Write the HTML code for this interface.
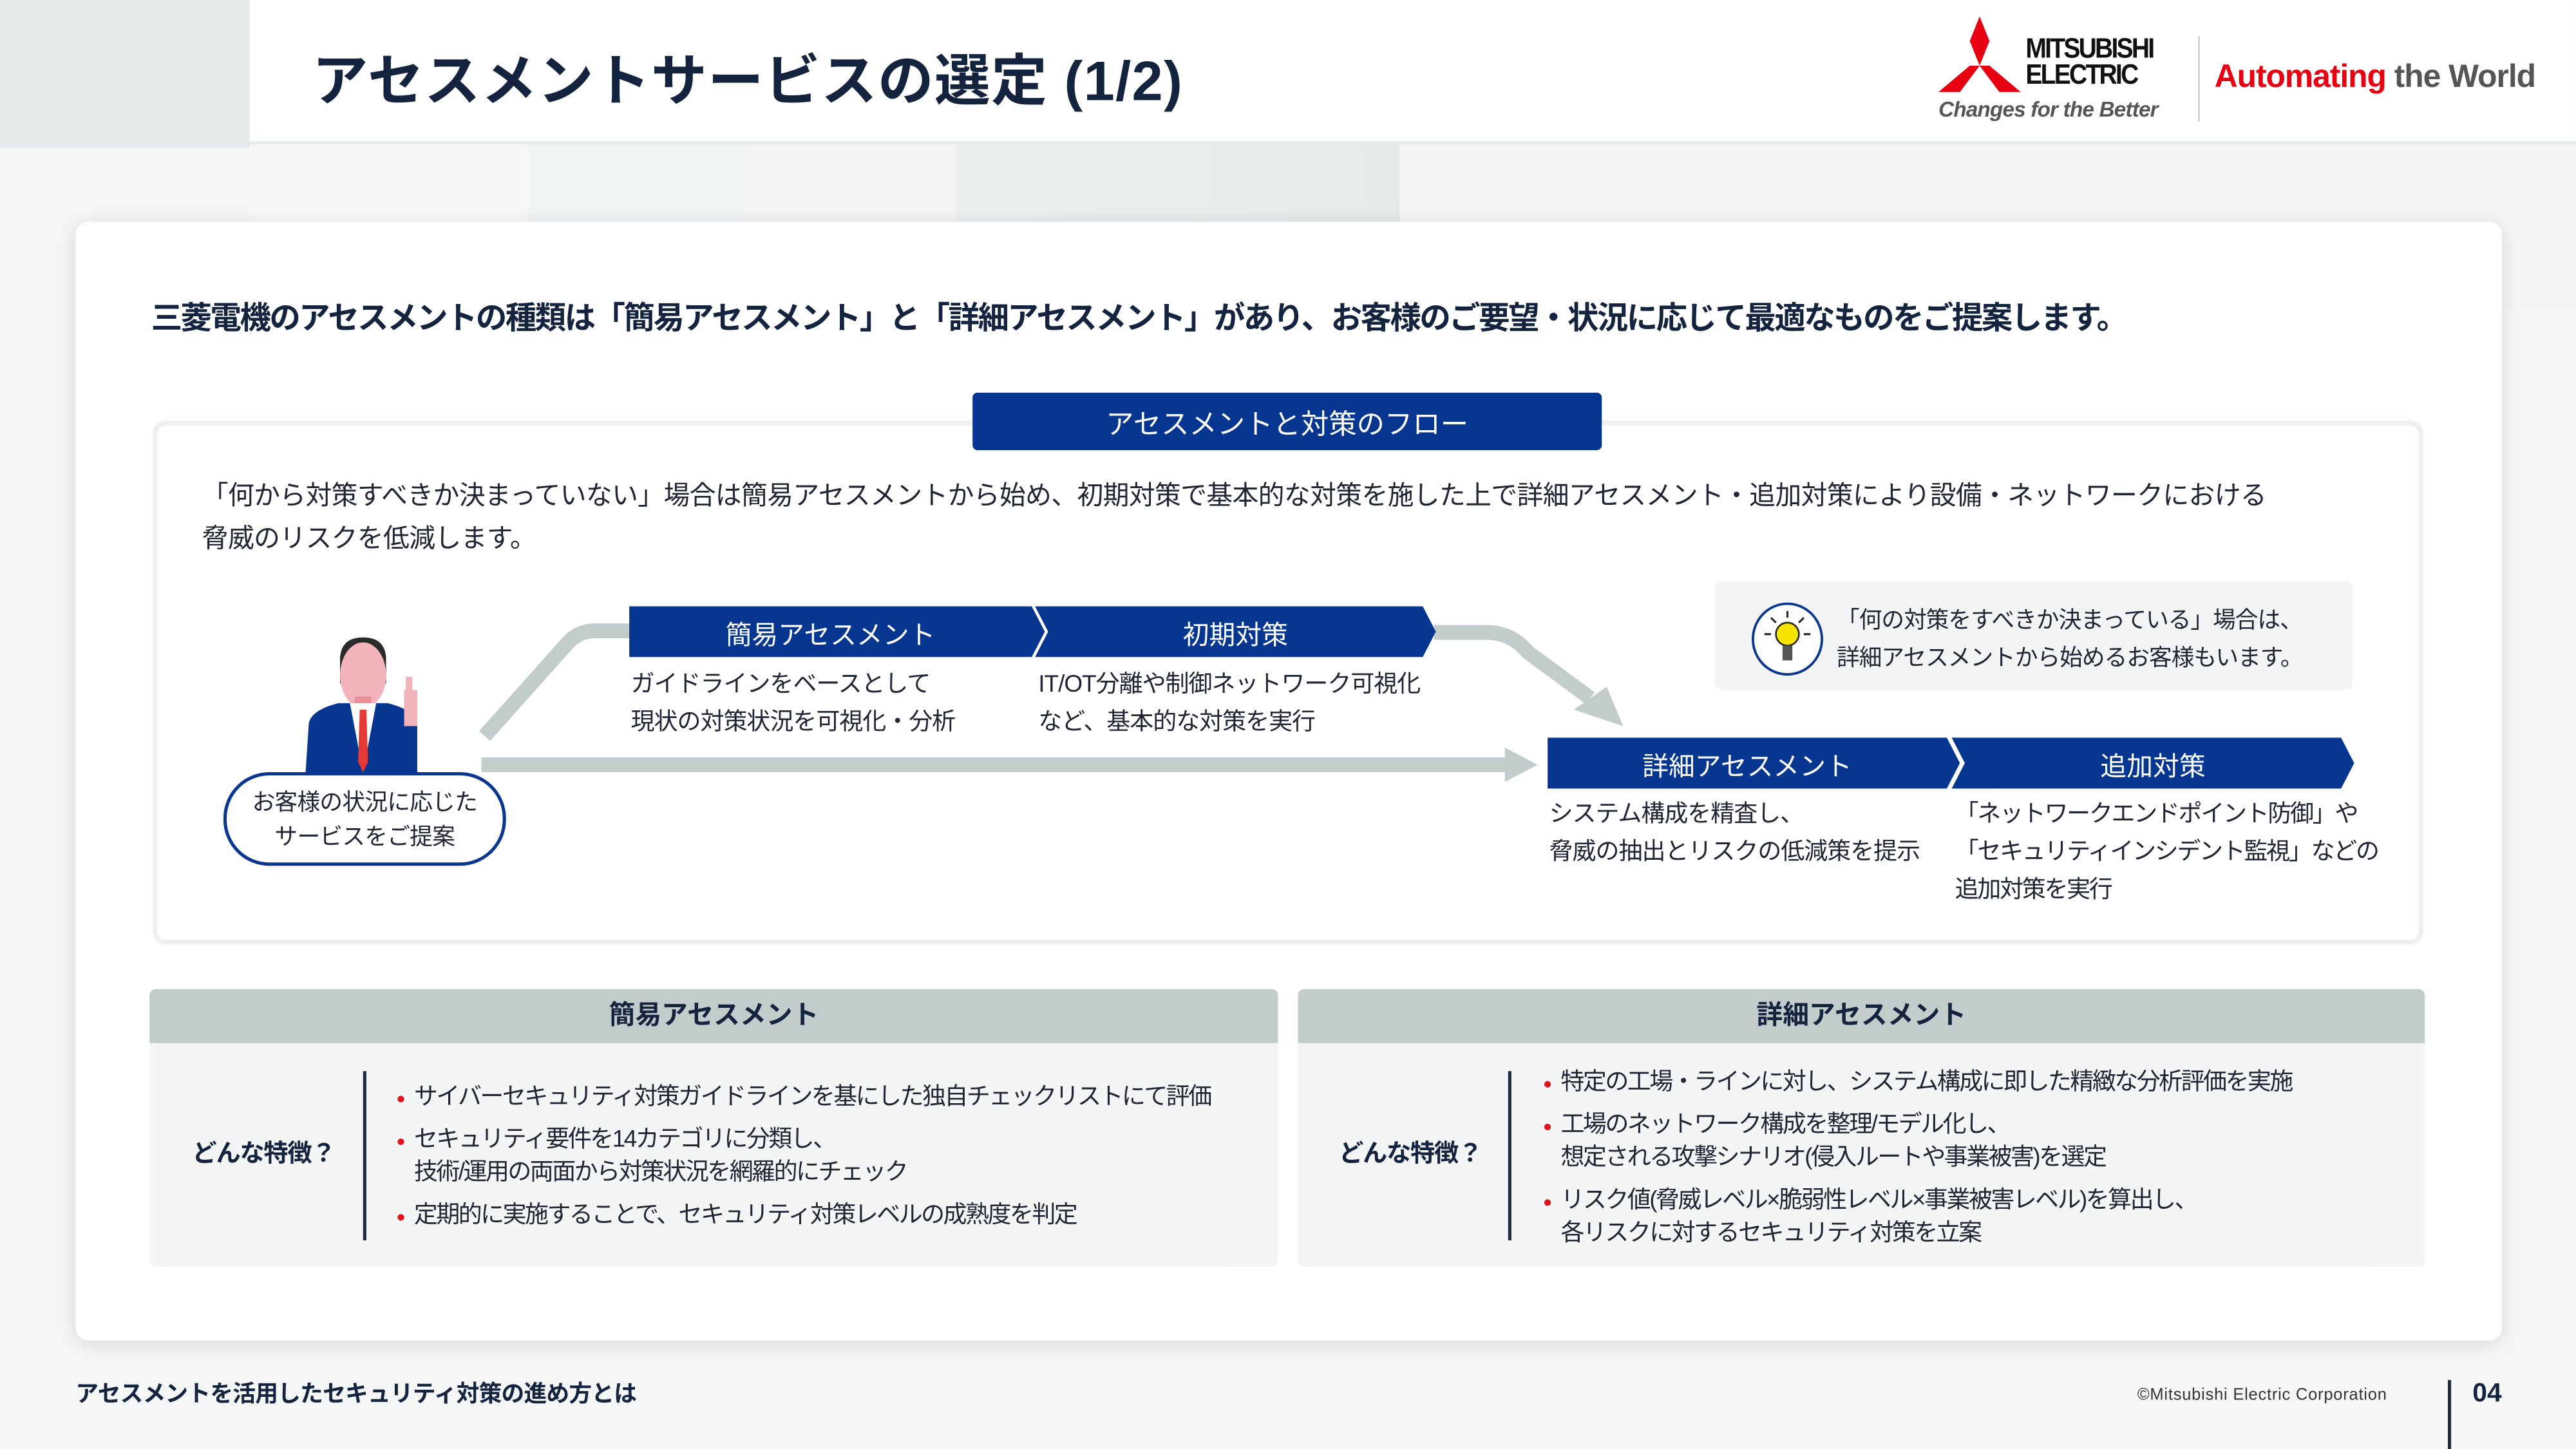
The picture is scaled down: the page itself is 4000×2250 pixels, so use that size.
<!DOCTYPE html>
<html><head><meta charset="utf-8"><style>
*{margin:0;padding:0;box-sizing:border-box}
html,body{width:4000px;height:2250px;overflow:hidden;background:#f4f6f6}
#s{position:absolute;left:0;top:0;width:1568px;height:882px;transform:scale(2.5510);transform-origin:0 0;font-family:"Liberation Sans","Noto Sans CJK JP",sans-serif;color:#1f2533;background:#f5f7f7}
.a{position:absolute;white-space:nowrap}
.t{font-size:14.5px;line-height:23px;letter-spacing:-0.4px}
.chev{position:absolute;background:#06368f;color:#fff;font-size:16px;display:flex;align-items:center;justify-content:center}
.b{position:absolute;width:4px;height:4px;border-radius:2px;background:#e0121b}
.bl{font-size:14.5px;line-height:20px;letter-spacing:-1px}
</style></head><body><div id="s">
<div class="a" style="left:152px;top:88px;width:1416px;height:100px;background:linear-gradient(90deg,#f6f8f8 0,#f6f8f8 170px,#f1f4f4 170px,#f1f4f4 300px,#f3f5f5 300px,#f3f5f5 430px,#eceff0 430px,#e6ebea 700px,#f4f6f6 700px)"></div>
<div class="a" style="left:0;top:0;width:1568px;height:88px;background:#fff;border-bottom:2px solid #e6eaea"></div>
<div class="a" style="left:0;top:0;width:152px;height:90px;background:#e6eaea"></div>
<div class="a" style="left:190px;top:22px;font-size:34px;font-weight:bold;color:#14243f;letter-spacing:0.5px">アセスメントサービスの選定 (1/2)</div>
<svg class="a" style="left:1178px;top:10px" width="54" height="48" viewBox="0 0 54 48">
<polygon points="27,0 33,15 27,30 21,15" fill="#e60012"/>
<polygon points="21,30 27,30 15,46 2,46" fill="#e60012"/>
<polygon points="27,30 33,30 52,46 39,46" fill="#e60012"/>
</svg>
<div class="a" style="left:1233px;top:22px;font-size:17px;font-weight:bold;line-height:16px;letter-spacing:-1.2px;color:#111;transform:scaleX(0.9);transform-origin:0 0">MITSUBISHI<br>ELECTRIC</div>
<div class="a" style="left:1180px;top:59px;font-size:13px;font-style:italic;font-weight:bold;color:#555;letter-spacing:-0.3px">Changes for the Better</div>
<div class="a" style="left:1338px;top:22px;width:1px;height:52px;background:#ccc"></div>
<div class="a" style="left:1348px;top:36px;font-size:19.5px;font-weight:bold;letter-spacing:-0.4px"><span style="color:#e60012">Automating</span> <span style="color:#555">the World</span></div>
<div class="a" style="left:46px;top:135px;width:1477px;height:681px;background:#fff;border-radius:8px;box-shadow:0 2px 12px rgba(0,0,0,0.12)"></div>
<div class="a" style="left:92px;top:179px;font-size:19px;font-weight:bold;color:#14243f;letter-spacing:-1px">三菱電機のアセスメントの種類は「簡易アセスメント」と「詳細アセスメント」があり、お客様のご要望・状況に応じて最適なものをご提案します。</div>
<div class="a" style="left:93px;top:256px;width:1382px;height:319px;border:3px solid #eef1f1;border-radius:8px"></div>
<div class="a" style="left:592px;top:239px;width:383px;height:35px;background:#06368f;border-radius:3px;color:#fff;font-size:17px;display:flex;align-items:center;justify-content:center">アセスメントと対策のフロー</div>
<div class="a" style="left:123px;top:290px;font-size:16px;line-height:26px;letter-spacing:-0.25px">「何から対策すべきか決まっていない」場合は簡易アセスメントから始め、初期対策で基本的な対策を施した上で詳細アセスメント・追加対策により設備・ネットワークにおける<br>脅威のリスクを低減します。</div>
<svg class="a" style="left:0;top:0" width="1568" height="882">
<path d="M295,448 L345,392 Q352,384 362,384 L384,384" fill="none" stroke="#c2cdcb" stroke-width="9"/>
<path d="M873,385 L905,385 Q920,385 930,397 L968,425" fill="none" stroke="#c2cdcb" stroke-width="9"/>
<polygon points="958,432 978,418 988,442" fill="#c2cdcb"/>
<rect x="293" y="461" width="625" height="9" fill="#c2cdcb"/>
<polygon points="916,455 936,465.5 916,476" fill="#c2cdcb"/>
</svg>
<svg class="a" style="left:180px;top:386px" width="90" height="86" viewBox="0 0 90 86">
<path d="M27,14 Q28,2 41,2 Q54,2 55,14 L55,30 L27,30Z" fill="#2b2b2b"/>
<ellipse cx="41" cy="25" rx="14" ry="20" fill="#f3b3bb"/>
<rect x="36" y="38" width="10" height="12" fill="#ea8e99"/>
<path d="M6,84 L8,54 Q10,46 26,42 L56,42 Q72,46 74,54 L74,84Z" fill="#06368f"/>
<path d="M33,42 L41,84 L49,42Z" fill="#fff"/>
<path d="M39,46 L43,46 L44,78 L41,84 L38,78Z" fill="#e53935"/>
<rect x="66" y="34" width="8" height="22" fill="#f3b3bb"/>
<rect x="67" y="26" width="4" height="12" fill="#f3b3bb"/>
</svg>
<div class="a" style="left:136px;top:470px;width:172px;height:57px;border:2.5px solid #0a3591;border-radius:28px;background:#fff;font-size:14px;line-height:21px;text-align:center;padding-top:6px;letter-spacing:-0.3px">お客様の状況に応じた<br>サービスをご提案</div>
<div class="chev" style="left:383px;top:369px;width:253px;height:31px;clip-path:polygon(0 0,245px 0,253px 50%,245px 100%,0 100%);padding-right:8px">簡易アセスメント</div>
<div class="chev" style="left:630px;top:369px;width:244px;height:31px;clip-path:polygon(0 0,236px 0,244px 50%,236px 100%,0 100%,8px 50%)">初期対策</div>
<div class="a t" style="left:384px;top:406px">ガイドラインをベースとして<br>現状の対策状況を可視化・分析</div>
<div class="a t" style="left:632px;top:406px">IT/OT分離や制御ネットワーク可視化<br>など、基本的な対策を実行</div>
<div class="chev" style="left:942px;top:449px;width:251px;height:31px;clip-path:polygon(0 0,243px 0,251px 50%,243px 100%,0 100%);padding-right:8px">詳細アセスメント</div>
<div class="chev" style="left:1188px;top:449px;width:245px;height:31px;clip-path:polygon(0 0,237px 0,245px 50%,237px 100%,0 100%,8px 50%)">追加対策</div>
<div class="a t" style="left:943px;top:485px">システム構成を精査し、<br>脅威の抽出とリスクの低減策を提示</div>
<div class="a t" style="left:1190px;top:485px;letter-spacing:-0.9px">「ネットワークエンドポイント防御」や<br>「セキュリティインシデント監視」などの<br>追加対策を実行</div>
<div class="a" style="left:1044px;top:354px;width:388px;height:66px;background:#f3f5f5;border-radius:4px"></div>
<svg class="a" style="left:1066px;top:366px" width="45" height="46" viewBox="0 0 45 46">
<ellipse cx="22" cy="23" rx="21" ry="21.5" fill="#fff" stroke="#0a3591" stroke-width="1.5"/>
<circle cx="22" cy="20" r="7" fill="#f5e400" stroke="#222" stroke-width="1"/>
<rect x="19" y="27" width="6" height="9" fill="#555"/>
<g stroke="#222" stroke-width="1.2"><line x1="22" y1="6" x2="22" y2="10"/><line x1="12" y1="10" x2="15" y2="13"/><line x1="32" y1="10" x2="29" y2="13"/><line x1="8" y1="20" x2="12" y2="20"/><line x1="36" y1="20" x2="32" y2="20"/></g>
</svg>
<div class="a" style="left:1118px;top:366px;font-size:14px;line-height:23px;letter-spacing:-0.4px">「何の対策をすべきか決まっている」場合は、<br>詳細アセスメントから始めるお客様もいます。</div>
<div class="a" style="left:91px;top:602px;width:687px;height:169px;background:#f4f6f6;border-radius:4px;overflow:hidden"><div style="height:33px;background:#c2cdcb;font-size:16px;font-weight:bold;color:#14243f;text-align:center;line-height:33px">簡易アセスメント</div></div>
<div class="a" style="left:117px;top:691px;font-size:15px;font-weight:bold;color:#14243f;letter-spacing:-0.5px">どんな特徴？</div>
<div class="a" style="left:221px;top:652px;width:1.5px;height:103px;background:#1f2a3d"></div>
<div class="b" style="left:242px;top:667px"></div>
<div class="b" style="left:242px;top:693px"></div>
<div class="b" style="left:242px;top:739px"></div>
<div class="a bl" style="left:252px;top:658px">サイバーセキュリティ対策ガイドラインを基にした独自チェックリストにて評価</div>
<div class="a bl" style="left:252px;top:684px">セキュリティ要件を14カテゴリに分類し、<br>技術/運用の両面から対策状況を網羅的にチェック</div>
<div class="a bl" style="left:252px;top:730px">定期的に実施することで、セキュリティ対策レベルの成熟度を判定</div>
<div class="a" style="left:790px;top:602px;width:686px;height:169px;background:#f4f6f6;border-radius:4px;overflow:hidden"><div style="height:33px;background:#c2cdcb;font-size:16px;font-weight:bold;color:#14243f;text-align:center;line-height:33px">詳細アセスメント</div></div>
<div class="a" style="left:815px;top:691px;font-size:15px;font-weight:bold;color:#14243f;letter-spacing:-0.5px">どんな特徴？</div>
<div class="a" style="left:918px;top:652px;width:1.5px;height:103px;background:#1f2a3d"></div>
<div class="b" style="left:940px;top:658px"></div>
<div class="b" style="left:940px;top:684px"></div>
<div class="b" style="left:940px;top:730px"></div>
<div class="a bl" style="left:950px;top:649px">特定の工場・ラインに対し、システム構成に即した精緻な分析評価を実施</div>
<div class="a bl" style="left:950px;top:675px">工場のネットワーク構成を整理/モデル化し、<br>想定される攻撃シナリオ(侵入ルートや事業被害)を選定</div>
<div class="a bl" style="left:950px;top:721px">リスク値(脅威レベル×脆弱性レベル×事業被害レベル)を算出し、<br>各リスクに対するセキュリティ対策を立案</div>
<div class="a" style="left:46px;top:838px;font-size:14px;font-weight:bold;color:#14243f;letter-spacing:-0.3px">アセスメントを活用したセキュリティ対策の進め方とは</div>
<div class="a" style="left:1301px;top:844px;font-size:10px;color:#333;letter-spacing:0.3px">©Mitsubishi Electric Corporation</div>
<div class="a" style="left:1490px;top:840px;width:1.5px;height:42px;background:#1f2a3d"></div>
<div class="a" style="left:1505px;top:840px;font-size:16px;font-weight:bold;color:#14243f">04</div>
</div></body></html>
